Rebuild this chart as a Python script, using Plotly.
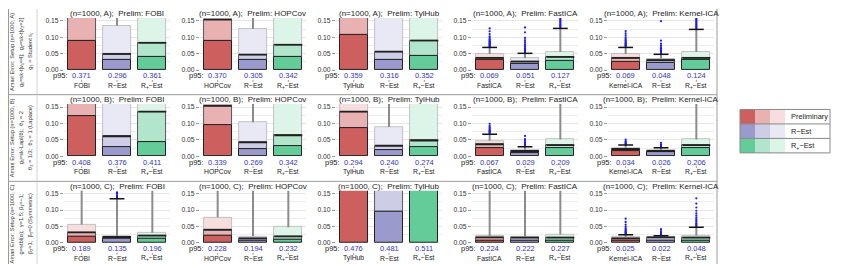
import plotly.graph_objects as go

W, H = 845, 264
FONT = "Liberation Sans, Arial, sans-serif"

row_names = ["A", "B", "C"]
prelims = ["FOBI", "HOPCov", "TylHub", "FastICA", "Kernel-ICA"]
est_labels = ["R−Est", "R<sub>+</sub>−Est"]
legend_labels = ["Preliminary", "R−Est", "R<sub>+</sub>−Est"]

row_label_lines = [
    ["Amari Error: Setup (n=1000, A)", "g₁=sk-t[ν₁=4];  g₂=sk-t[ν₂=2]", "g₃ = Student t₅"],
    ["Amari Error: Setup (n=1000, B)", "g₁=sk-Lapl(θ);  θ₁ = 2", "θ₂ = 1/3;  θ₃ = 1 (Laplace)"],
    ["Amari Error: Setup (n=1000, C)", "g=stbl(α);  γ=1.5; β₁=−1;", "β₂=1;  β₃=0 (Symmetric)"],
]

# each row: 5 panels x [Preliminary, R-Est, R+-Est]
dark_A = [[0.088, 0.030, 0.039], [0.088, 0.030, 0.040], [0.107, 0.032, 0.044], [0.030, 0.018, 0.028], [0.024, 0.022, 0.030]]
mid_A = [[0.20, 0.049, 0.083], [0.154, 0.047, 0.077], [0.20, 0.056, 0.090], [0.037, 0.026, 0.040], [0.037, 0.030, 0.037]]
top_A = [[0.20, 0.135, 0.20], [0.20, 0.125, 0.20], [0.20, 0.20, 0.20], [0.049, 0.036, 0.055], [0.049, 0.035, 0.055]]
p95_A = [[0.371, 0.296, 0.361], [0.370, 0.305, 0.342], [0.359, 0.316, 0.352], [0.069, 0.051, 0.127], [0.069, 0.048, 0.124]]
out_A = [
    [[], [], []], [[], [], []], [[], [], []],
    [[0.072, 0.074, 0.076, 0.078, 0.080, 0.082, 0.084, 0.086, 0.088, 0.091, 0.094, 0.098, 0.103, 0.110, 0.118, 0.127],
     [0.054, 0.057, 0.060, 0.063, 0.066, 0.070, 0.074, 0.079, 0.085, 0.091, 0.098, 0.115, 0.130],
     [0.130, 0.133, 0.136, 0.139, 0.142, 0.145, 0.148, 0.151, 0.154, 0.157]],
    [[0.072, 0.074, 0.076, 0.078, 0.080, 0.082, 0.085, 0.088, 0.091, 0.095, 0.100, 0.106, 0.112, 0.119],
     [0.051, 0.054, 0.057, 0.060, 0.063, 0.066, 0.070, 0.075, 0.081, 0.090, 0.149],
     [0.127, 0.130, 0.133, 0.136, 0.139, 0.142, 0.145, 0.148, 0.151, 0.154, 0.157]],
]

dark_B = [[0.122, 0.029, 0.042], [0.096, 0.022, 0.032], [0.086, 0.019, 0.029], [0.026, 0.010, 0.024], [0.016, 0.012, 0.024]]
mid_B = [[0.20, 0.061, 0.136], [0.154, 0.042, 0.064], [0.136, 0.032, 0.048], [0.036, 0.016, 0.034], [0.022, 0.016, 0.034]]
top_B = [[0.20, 0.20, 0.20], [0.20, 0.104, 0.20], [0.20, 0.089, 0.20], [0.047, 0.020, 0.051], [0.026, 0.018, 0.051]]
p95_B = [[0.408, 0.376, 0.411], [0.339, 0.269, 0.342], [0.294, 0.240, 0.274], [0.067, 0.029, 0.209], [0.034, 0.026, 0.206]]
out_B = [
    [[], [], []], [[], [], []], [[], [], []],
    [[0.070, 0.072, 0.074, 0.076, 0.078, 0.080, 0.083, 0.086, 0.089, 0.093, 0.099],
     [0.031, 0.033, 0.035, 0.037, 0.040, 0.043, 0.047, 0.052, 0.062],
     []],
    [[0.036, 0.038, 0.040, 0.043, 0.046, 0.051],
     [0.028, 0.030, 0.033, 0.036, 0.041],
     []],
]

dark_C = [[0.019, 0.012, 0.012], [0.022, 0.008, 0.010], [0.20, 0.094, 0.20], [0.007, 0.007, 0.008], [0.008, 0.008, 0.008]]
mid_C = [[0.032, 0.018, 0.022], [0.040, 0.014, 0.020], [0.20, 0.20, 0.20], [0.017, 0.016, 0.016], [0.014, 0.017, 0.016]]
top_C = [[0.056, 0.020, 0.031], [0.078, 0.020, 0.048], [0.20, 0.20, 0.20], [0.021, 0.019, 0.026], [0.018, 0.020, 0.022]]
p95_C = [[0.189, 0.135, 0.196], [0.228, 0.194, 0.232], [0.476, 0.481, 0.511], [0.224, 0.222, 0.227], [0.025, 0.022, 0.048]]
out_C = [
    [[], [0.138, 0.141, 0.145, 0.150, 0.154], []],
    [[], [], []], [[], [], []], [[], [], []],
    [[0.027, 0.029, 0.031, 0.033, 0.035, 0.038, 0.041, 0.045, 0.050, 0.056, 0.064, 0.074],
     [0.024, 0.026, 0.028, 0.030, 0.033, 0.036, 0.042],
     [0.051, 0.054, 0.057, 0.060, 0.064, 0.068, 0.072, 0.077, 0.083, 0.090, 0.098, 0.108, 0.120, 0.136]],
]

darks = ["#CD5F5F", "#9A9ACD", "#64CC98"]
mids = ["#E8B2B2", "#CDCDE6", "#B2E6CC"]
lights = ["#F6DEDE", "#E9E9F5", "#DDF4E8"]
P95_COLOR = "#3535B5"
OUT_COLOR = "#1A1AFF"

rows_data = [
    (dark_A, mid_A, top_A, p95_A, out_A),
    (dark_B, mid_B, top_B, p95_B, out_B),
    (dark_C, mid_C, top_C, p95_C, out_C),
]

YMAX = 0.159
SCALE = 333.0
row_y0 = [62.0, 149.5, 237.5]
BW = 0.79


def px(x):
    return x / W


def py(y):
    return 1 - y / H


fig = go.Figure()
layout = {}
annotations = []
shapes = []

for r in range(3):
    dk, md, tp, p95, outs = rows_data[r]
    y0 = row_y0[r]
    ytop = y0 - YMAX * SCALE
    for c in range(5):
        k = r * 5 + c + 1
        xa = "x" if k == 1 else f"x{k}"
        ya = "y" if k == 1 else f"y{k}"
        xl = 56 + 136 * c
        xr = 162 + 136 * c
        layout["xaxis" if k == 1 else f"xaxis{k}"] = dict(
            domain=[px(xl), px(xr)], range=[-0.5, 2.5], anchor=ya,
            showticklabels=False, showgrid=False, zeroline=False, showline=False,
            ticks="", fixedrange=True)
        layout["yaxis" if k == 1 else f"yaxis{k}"] = dict(
            domain=[py(y0), py(ytop)], range=[0, YMAX], anchor=xa,
            tickvals=[0, 0.05, 0.10, 0.15], ticktext=["0.00", "0.05", "0.10", "0.15"],
            tickfont=dict(size=6.8, color="#333333", family=FONT),
            ticks="outside", ticklen=3, tickcolor="#999999", tickwidth=0.8,
            showgrid=True, gridcolor="#e6e6e6", gridwidth=0.7,
            minor=dict(dtick=0.025, showgrid=True, gridcolor="#eeeeee", gridwidth=0.6),
            zeroline=False, showline=False, fixedrange=True)

        a = dk[c]
        b = md[c]
        t = tp[c]
        xs = [0, 1, 2]
        fig.add_trace(go.Bar(x=xs, base=b, y=[t[i] - b[i] for i in range(3)], width=BW,
                             marker=dict(color=lights, line=dict(color="#b5b5b5", width=0.8)),
                             xaxis=xa, yaxis=ya, showlegend=False, hoverinfo="skip"))
        fig.add_trace(go.Bar(x=xs, base=a, y=[b[i] - a[i] for i in range(3)], width=BW,
                             marker=dict(color=mids, line=dict(color="#4a4a4a", width=0.9)),
                             xaxis=xa, yaxis=ya, showlegend=False, hoverinfo="skip"))
        fig.add_trace(go.Bar(x=xs, base=[0, 0, 0], y=a, width=BW,
                             marker=dict(color=darks, line=dict(color="#222222", width=1.0)),
                             xaxis=xa, yaxis=ya, showlegend=False, hoverinfo="skip"))

        wx, wy, cx, cy, mx, my, ox, oy = [], [], [], [], [], [], [], []
        for i in range(3):
            if t[i] < YMAX and p95[c][i] > t[i]:
                wx += [i, i, None]
                wy += [t[i], min(p95[c][i], 0.2), None]
            if p95[c][i] < YMAX:
                cx += [i - 0.21, i + 0.21, None]
                cy += [p95[c][i], p95[c][i], None]
            if b[i] < YMAX:
                mx += [i - BW / 2, i + BW / 2, None]
                my += [b[i], b[i], None]
            for v in outs[c][i]:
                ox.append(i)
                oy.append(v)
        if wx:
            fig.add_trace(go.Scatter(x=wx, y=wy, mode="lines", line=dict(color="#8c8c8c", width=2),
                                     xaxis=xa, yaxis=ya, showlegend=False, hoverinfo="skip"))
        if mx:
            fig.add_trace(go.Scatter(x=mx, y=my, mode="lines", line=dict(color="#202020", width=1.8),
                                     xaxis=xa, yaxis=ya, showlegend=False, hoverinfo="skip"))
        if ox:
            fig.add_trace(go.Scatter(x=ox, y=oy, mode="markers",
                                     marker=dict(color=OUT_COLOR, size=2.2, line=dict(width=0)),
                                     xaxis=xa, yaxis=ya, showlegend=False, hoverinfo="skip",
                                     cliponaxis=True))
        if cx:
            fig.add_trace(go.Scatter(x=cx, y=cy, mode="lines", line=dict(color="#111111", width=1.5),
                                     xaxis=xa, yaxis=ya, showlegend=False, hoverinfo="skip"))

        annotations.append(dict(
            text=f"(n=1000, {row_names[r]});  Prelim: {prelims[c]}",
            x=px((xl + xr) / 2), y=py(ytop - 4.6), xref="paper", yref="paper",
            xanchor="center", yanchor="middle", showarrow=False,
            font=dict(size=8, color="#222222", family=FONT)))
        annotations.append(dict(
            text="p95:", x=px(xl + 5), y=py(y0 + 6.0), xref="paper", yref="paper",
            xanchor="right", yanchor="middle", showarrow=False, borderpad=0,
            font=dict(size=7.5, color="#222222", family=FONT)))
        cats = [prelims[c]] + est_labels
        for i in range(3):
            annotations.append(dict(
                text=f"{p95[c][i]:.3f}", x=i, y=py(y0 + 6.0), xref=xa, yref="paper",
                xanchor="center", yanchor="middle", showarrow=False, borderpad=0,
                font=dict(size=7.5, color=P95_COLOR, family=FONT)))
            annotations.append(dict(
                text=cats[i], x=i, y=py(y0 + 15.8), xref=xa, yref="paper",
                xanchor="center", yanchor="middle", showarrow=False, borderpad=0,
                font=dict(size=6.8, color="#222222", family=FONT)))
            shapes.append(dict(type="line", xref=xa, yref="paper", x0=i, x1=i,
                               y0=py(y0 + 10.2), y1=py(y0 + 12.0),
                               line=dict(color="#777777", width=0.8)))

    yc = [43.5, 131, 218.5][r]
    for j, xline in enumerate([4.2, 13.2, 22.0]):
        annotations.append(dict(
            text=row_label_lines[r][j], x=px(xline), y=py(yc), xref="paper", yref="paper",
            xanchor="center", yanchor="middle", textangle=-90, showarrow=False, borderpad=0,
            font=dict(size=5.7, color="#333333", family=FONT)))

SEP = "#9a9a9a"
for yy in [87, 175]:
    shapes.append(dict(type="line", xref="paper", yref="paper", x0=0, x1=px(709),
                       y0=py(yy), y1=py(yy), line=dict(color=SEP, width=1)))
shapes.append(dict(type="line", xref="paper", yref="paper", x0=px(709), x1=px(709),
                   y0=0, y1=1, line=dict(color=SEP, width=1)))
shapes.append(dict(type="line", xref="paper", yref="paper", x0=px(0.5), x1=px(0.5),
                   y0=0, y1=1, line=dict(color=SEP, width=1)))
shapes.append(dict(type="line", xref="paper", yref="paper", x0=px(29), x1=px(29),
                   y0=0, y1=1, line=dict(color="#c8c8c8", width=0.8)))

LX0, LX1 = 732, 822
LY0 = 102
RH = 14.7
for j in range(3):
    ya0 = LY0 + j * RH
    ya1 = ya0 + RH
    for s, col in enumerate([darks[j], mids[j], lights[j]]):
        shapes.append(dict(type="rect", xref="paper", yref="paper",
                           x0=px(LX0 + 15 * s), x1=px(LX0 + 15 * (s + 1)),
                           y0=py(ya1), y1=py(ya0), fillcolor=col, line=dict(width=0)))
    annotations.append(dict(
        text=legend_labels[j], x=px(LX0 + 49), y=py(ya0 + RH / 2), xref="paper", yref="paper",
        xanchor="left", yanchor="middle", showarrow=False,
        font=dict(size=7.4, color="#222222", family=FONT)))
    if j > 0:
        shapes.append(dict(type="line", xref="paper", yref="paper", x0=px(LX0), x1=px(LX1),
                           y0=py(ya0), y1=py(ya0), line=dict(color="#888888", width=1)))
shapes.append(dict(type="rect", xref="paper", yref="paper", x0=px(LX0), x1=px(LX1),
                   y0=py(LY0 + 3 * RH), y1=py(LY0), line=dict(color="#888888", width=1)))

layout.update(dict(
    width=W, height=H, margin=dict(l=0, r=0, t=0, b=0),
    paper_bgcolor="white", plot_bgcolor="white",
    barmode="overlay", bargap=0, showlegend=False,
    annotations=annotations, shapes=shapes,
    font=dict(family=FONT),
))
fig.update_layout(**layout)
fig.write_html("out.html", config={"displayModeBar": False})
